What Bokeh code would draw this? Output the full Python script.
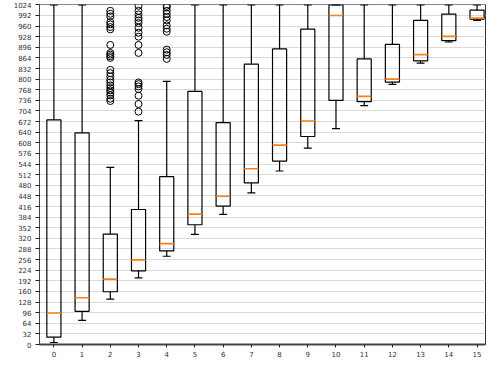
from bokeh.plotting import figure
from bokeh.models import FixedTicker, ColumnDataSource, Range1d
from bokeh.embed import file_html
from bokeh.resources import INLINE

categories = list(range(16))
whisker_low = [6, 73, 137, 201, 266, 332, 392, 457, 523, 592, 651, 720, 784, 848, 912, 977]
q1 = [22, 100, 159, 222, 282, 361, 417, 487, 553, 627, 736, 732, 791, 855, 916, 981]
median = [95, 141, 197, 255, 304, 393, 447, 530, 601, 674, 992, 748, 800, 874, 929, 984]
q3 = [677, 638, 333, 407, 506, 763, 669, 845, 891, 951, 1024, 861, 905, 977, 996, 1008]
whisker_high = [1024, 1024, 534, 675, 793, 1024, 1024, 1024, 1024, 1024, 1024, 1024, 1024, 1024, 1024, 1024]

outliers_2 = [1006, 997, 989, 972, 965, 957, 950, 903, 879, 874, 869, 864,
              828, 818, 808, 798, 790, 781, 773, 766, 759, 751, 741, 734]
outliers_3 = [1021, 1006, 995, 985, 977, 969, 955, 940, 928, 903, 879,
              790, 785, 778, 770, 750, 725, 702]
outliers_4 = [1021, 1016, 1006, 997, 987, 977, 962, 952, 943, 889, 881, 873, 861]

y_ticks = list(range(0, 1025, 32))

box_w = 0.5
cap_w = 0.28

p = figure(width=486, height=359, output_backend="svg", toolbar_location=None,
           x_range=Range1d(-0.51, 15.3), y_range=Range1d(0, 1025),
           min_border_left=39, min_border_right=1, min_border_top=4, min_border_bottom=15)

p.xgrid.grid_line_color = None
p.ygrid.grid_line_color = "#d9d9d9"
p.ygrid.grid_line_width = 1
p.outline_line_color = "#333333"
p.outline_line_width = 1
p.background_fill_color = "white"

for ax in (p.xaxis, p.yaxis):
    ax.major_label_text_font = "DejaVu Sans"
    ax.major_label_text_font_size = "7px"
    ax.major_label_text_color = "#333333"
    ax.minor_tick_line_color = None
    ax.major_tick_in = 0
    ax.major_tick_out = 4
    ax.major_tick_line_color = "#222222"
    ax.axis_line_color = "#444444"

p.yaxis.ticker = FixedTicker(ticks=y_ticks)
p.xaxis.ticker = FixedTicker(ticks=categories)
p.xaxis.axis_line_width = 2
p.xaxis.major_tick_out = 3
p.yaxis.major_label_standoff = 4
p.xaxis.major_label_standoff = 3

src = ColumnDataSource(dict(x=categories, lo=whisker_low, q1=q1, med=median, q3=q3, hi=whisker_high,
                            xl=[c - box_w / 2 for c in categories], xr=[c + box_w / 2 for c in categories],
                            cl=[c - cap_w / 2 for c in categories], cr=[c + cap_w / 2 for c in categories]))

# whiskers
p.segment(x0="x", y0="q3", x1="x", y1="hi", source=src, line_color="black", line_width=1.2)
p.segment(x0="x", y0="lo", x1="x", y1="q1", source=src, line_color="black", line_width=1.2)
# caps
p.segment(x0="cl", y0="hi", x1="cr", y1="hi", source=src, line_color="black", line_width=1.2)
p.segment(x0="cl", y0="lo", x1="cr", y1="lo", source=src, line_color="black", line_width=1.2)
# boxes
p.quad(left="xl", right="xr", bottom="q1", top="q3", source=src, fill_color=None,
       line_color="black", line_width=1.2)
# medians
p.segment(x0="xl", y0="med", x1="xr", y1="med", source=src, line_color="#ff7f0e", line_width=1.6)

# fliers
fx, fy = [], []
for c, vals in ((2, outliers_2), (3, outliers_3), (4, outliers_4)):
    fx += [c] * len(vals)
    fy += vals
p.scatter(fx, fy, marker="circle", size=7, fill_color=None, line_color="black", line_width=1)

open("out.html", "w").write(file_html(p, INLINE))
